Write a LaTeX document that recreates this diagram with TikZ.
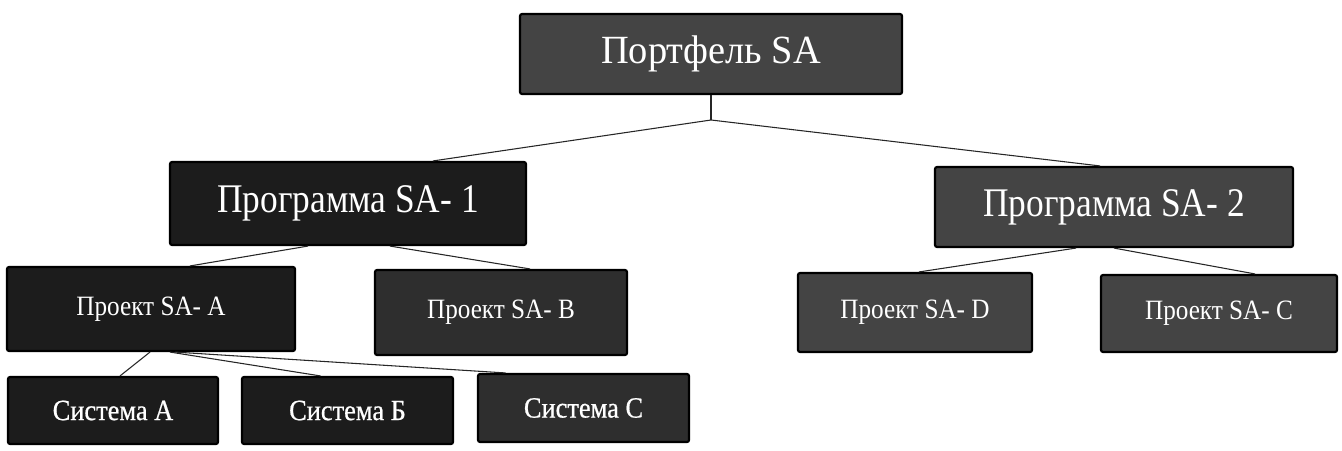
\documentclass[tikz,border=0pt]{standalone}
\usepackage{fontspec}
\setmainfont{Liberation Serif}
\newfontfamily\topfont[FakeStretch=0.96]{Liberation Serif}
\newfontfamily\progfont[FakeStretch=0.87]{Liberation Serif}
\newfontfamily\projfont[FakeStretch=0.9]{Liberation Serif}
\newfontfamily\sysfont[FakeStretch=0.9,FakeBold=0.6]{Liberation Serif}
\usetikzlibrary{calc}
\definecolor{boxdark}{HTML}{1C1C1C}
\definecolor{boxmid}{HTML}{2E2E2E}
\definecolor{boxlight}{HTML}{444444}
\tikzset{
  orgbox/.style={draw=black, line width=1.6pt, rounded corners=1.5pt, text=white, inner sep=0pt, align=center},
  bigtxt/.style={font=\topfont\fontsize{30}{32}\selectfont},
  midtxt/.style={font=\progfont\fontsize{30.5}{32}\selectfont},
  smalltxt/.style={font=\projfont\fontsize{21}{23}\selectfont},
  systxt/.style={font=\sysfont\fontsize{22}{24}\selectfont},
  link/.style={draw=black!85, line width=0.8pt}
}
\begin{document}
\begin{tikzpicture}[x=0.75pt, y=-0.75pt]
\useasboundingbox (0,0) rectangle (1342,450);
% level 0
\node[orgbox, bigtxt, fill=boxlight, minimum width=286.5pt, minimum height=60pt] (P) at (711,54) {Портфель SA};
% level 1
\node[orgbox, midtxt, fill=boxdark, minimum width=267pt, minimum height=62.25pt] (S1) at (348,203.5) {Программа SA- 1};
\node[orgbox, midtxt, fill=boxlight, minimum width=268.5pt, minimum height=60pt] (S2) at (1114,207) {Программа SA- 2};
% level 2
\node[orgbox, smalltxt, fill=boxdark, minimum width=216pt, minimum height=63pt] (PA) at (151,309) {Проект SA- A};
\node[orgbox, smalltxt, fill=boxmid, minimum width=189pt, minimum height=63.75pt] (PB) at (501,312.5) {Проект SA- B};
\node[orgbox, smalltxt, fill=boxlight, minimum width=175.5pt, minimum height=59.25pt] (PD) at (915,312.5) {Проект SA- D};
\node[orgbox, smalltxt, fill=boxlight, minimum width=177pt, minimum height=57.75pt] (PC) at (1219,313.5) {Проект SA- C};
% level 3
\node[orgbox, systxt, fill=boxdark, minimum width=157.5pt, minimum height=50.25pt] (CA) at (113,410.5) {Система A};
\node[orgbox, systxt, fill=boxdark, minimum width=158.25pt, minimum height=50.25pt] (CB) at (347.5,410.5) {Система Б};
\node[orgbox, systxt, fill=boxmid, minimum width=158.25pt, minimum height=51pt] (CC) at (583.5,408) {Система C};
% connectors
\coordinate (J) at (711,120);
\draw[link] (P.south) -- (J);
\draw[link] (J) -- ($(S1.north)+(85,0)$);
\draw[link] (J) -- ($(S2.north)+(-14,0)$);
\draw[link] ($(S1.south)+(-40,0)$) -- ($(PA.north)+(39,0)$);
\draw[link] ($(S1.south)+(42,0)$) -- ($(PB.north)+(29,0)$);
\draw[link] ($(S2.south)+(-38,0)$) -- ($(PD.north)+(4,0)$);
\draw[link] ($(S2.south)+(0,0)$) -- ($(PC.north)+(36,0)$);
\draw[link] ($(PA.south)+(-1,0)$) -- ($(CA.north)+(7,0)$);
\draw[link] ($(PA.south)+(19,0)$) -- ($(CB.north)+(-27,0)$);
\draw[link] ($(PA.south)+(24,0)$) -- ($(CC.north)+(-78,0)$);
\end{tikzpicture}
\end{document}
